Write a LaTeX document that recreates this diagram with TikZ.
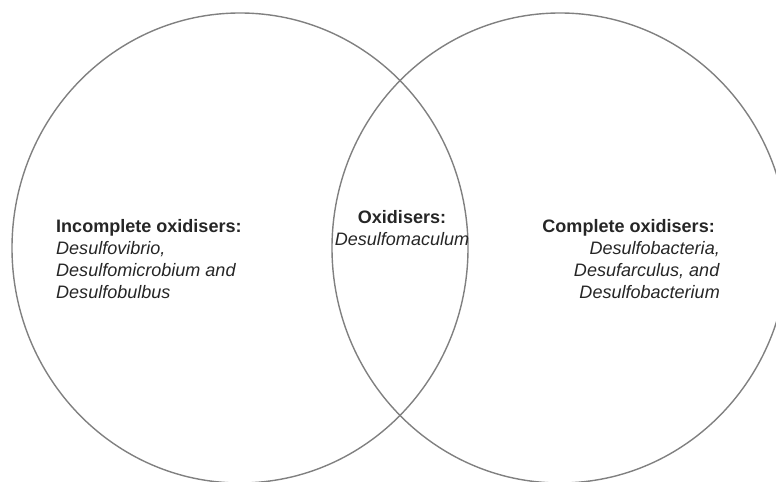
\documentclass[tikz,border=0pt]{standalone}
\usepackage{fontspec}
\setmainfont{Liberation Sans}
\usetikzlibrary{shapes.geometric}
\definecolor{ringgray}{RGB}{128,128,128}
\definecolor{textgray}{RGB}{38,38,38}
\begin{document}
\begin{tikzpicture}[x=1bp, y=1bp,
  ring/.style={draw=ringgray, line width=1.4bp, ellipse, inner sep=0pt,
    minimum width=456bp, minimum height=470bp},
  group/.style={inner sep=0pt, text=textgray,
    font=\fontsize{18.1}{22.4}\selectfont}]
  \useasboundingbox (0,0) rectangle (776,482);
  \clip (0,0) rectangle (776,482);
  \node[ring] (incomplete) at (240,234) {};
  \node[ring] (complete) at (560,234) {};
  \node[group, align=left, anchor=base west] (leftlabel) at (56,183)
    {\textbf{Incomplete oxidisers:}\\ \textit{Desulfovibrio,}\\
     \textit{Desulfomicrobium and}\\ \textit{Desulfobulbus}};
  \node[group, align=center, anchor=base] (midlabel) at (402,236)
    {\textbf{Oxidisers:}\\ \textit{Desulfomaculum}};
  \node[group, align=right, anchor=base east] (rightlabel) at (720,183)
    {\textbf{Complete oxidisers:}\hspace*{5bp}\\ \textit{Desulfobacteria,}\\
     \textit{Desufarculus, and}\\ \textit{Desulfobacterium}};
\end{tikzpicture}
\end{document}
